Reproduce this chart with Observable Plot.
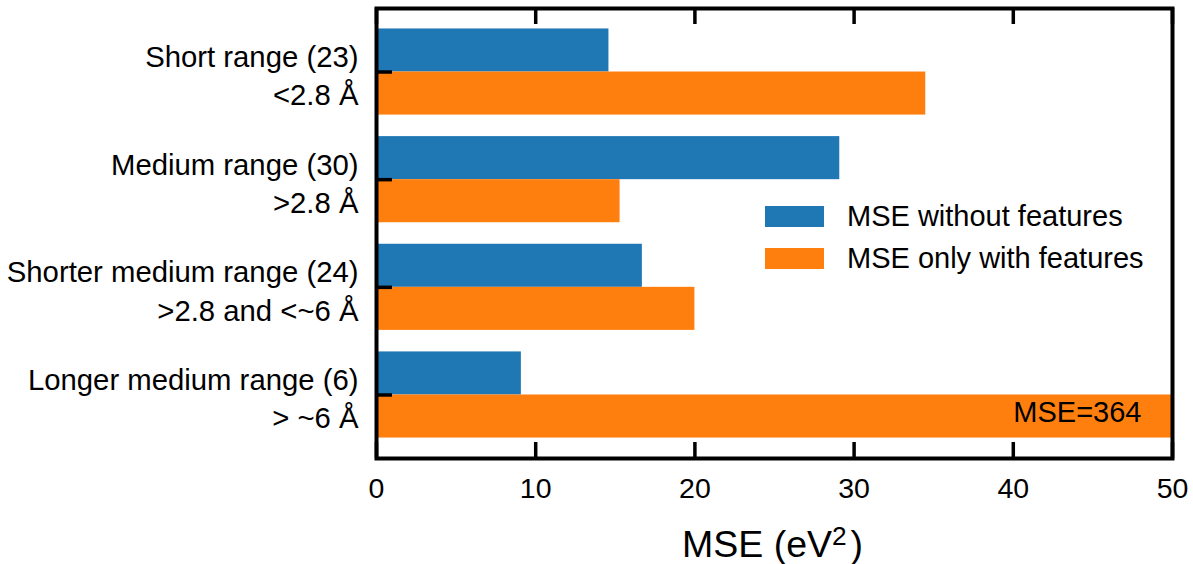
<!DOCTYPE html>
<html>
<head>
<meta charset="utf-8">
<script src="https://cdn.jsdelivr.net/npm/d3@7"></script>
<script src="https://cdn.jsdelivr.net/npm/@observablehq/plot@0.6"></script>
<style>
  html, body { margin: 0; padding: 0; background: #fff; }
  #wrap { position: relative; width: 1193px; height: 564px; font-family: "Liberation Sans", Arial, Helvetica, sans-serif; }
  #legend { position: absolute; left: 765px; top: 195px; font-size: 29px; color: #000; }
  .item { display: flex; align-items: center; height: 42px; }
  .sw { width: 59px; height: 21px; margin-right: 23px; }
</style>
</head>
<body>
<div id="wrap">
  <div id="chart"></div>
  <div id="legend"></div>
</div>
<script>
// ---- data ----
const categories = ["Short range (23)", "Medium range (30)", "Shorter medium range (24)", "Longer medium range (6)"];
const rangeLabels = ["<2.8 Å", ">2.8 Å", ">2.8 and <~6 Å", "> ~6 Å"];
const mseWithout = [14.6, 29.1, 16.7, 9.1];
const mseOnlyWith = [34.5, 15.3, 20.0, 364];
const seriesNames = ["MSE without features", "MSE only with features"];
const seriesColors = ["#1f77b4", "#ff7f0e"];
const xTicks = [0, 10, 20, 30, 40, 50];
const xDomain = [0, 50];
const annotationText = "MSE=364";
const xLabelParts = ["MSE (eV", "2", ")"];

// ---- build table ----
const barWidth = 0.4;
const rows = [];
categories.forEach((c, i) => {
  rows.push({cat: c, i, series: seriesNames[0], value: mseWithout[i], y1: i - barWidth, y2: i});
  rows.push({cat: c, i, series: seriesNames[1], value: mseOnlyWith[i], y1: i, y2: i + barWidth});
});
const catIdx = categories.map((c, i) => i);
const labelRows = categories.map((c, i) => ({i, text: c + "\n" + rangeLabels[i]}));
const xLabel = xLabelParts.join("");

const W = 1193, H = 564;
const mL = 376, mR = 21, mT = 8, mB = 106;
const plotW = W - mL - mR, plotH = H - mT - mB;
const tickLen = 16;
const n = categories.length;
const pad = 0.05 * ((n - 1 + barWidth) - (-barWidth));

const chart = Plot.plot({
  width: W,
  height: H,
  marginLeft: mL,
  marginRight: mR,
  marginTop: mT,
  marginBottom: mB,
  style: {fontFamily: '"Liberation Sans", Arial, Helvetica, sans-serif', background: "white", color: "black"},
  x: {domain: xDomain, axis: null},
  y: {domain: [-barWidth - pad, n - 1 + barWidth + pad], reverse: true, axis: null},
  color: {domain: seriesNames, range: seriesColors},
  marks: [
    Plot.rectX(rows, {x1: 0, x2: "value", y1: "y1", y2: "y2", fill: "series", clip: true}),
    Plot.text([annotationText], {x: () => xDomain[1], y: () => (n - 1) + barWidth / 2, text: d => d, textAnchor: "end", lineAnchor: "middle", dx: -31, dy: -4, fontSize: 29, fill: "black"}),
    Plot.tickX(xTicks, {x: d => d, insetTop: plotH - tickLen, stroke: "black", strokeWidth: 3.5}),
    Plot.tickX(xTicks, {x: d => d, insetBottom: plotH - tickLen, stroke: "black", strokeWidth: 3.5}),
    Plot.tickY(catIdx, {y: d => d, insetRight: plotW - tickLen, stroke: "black", strokeWidth: 3.5}),
    Plot.frame({stroke: "black", strokeWidth: 4}),
    Plot.axisX(xTicks, {anchor: "bottom", tickSize: 0, tickPadding: 19, fontSize: 28.5, label: null}),
    Plot.text(labelRows, {y: "i", text: "text", frameAnchor: "left", textAnchor: "end", lineAnchor: "middle", dx: -18, dy: 2, lineHeight: 1.3, fontSize: 29.3, fill: "black"}),
    Plot.text([xLabel], {frameAnchor: "bottom", text: d => d, lineAnchor: "middle", dy: 86, dx: -2, fontSize: 37.5, fill: "black"})
  ]
});
document.getElementById("chart").appendChild(chart);

// superscript in the axis label
d3.select(chart).selectAll("text").filter(function() { return this.textContent === xLabel; }).each(function() {
  const t = d3.select(this);
  t.text(null);
  t.append("tspan").text(xLabelParts[0]);
  t.append("tspan").attr("dy", "-0.42em").attr("font-size", "0.7em").text(xLabelParts[1]);
  t.append("tspan").attr("dy", "0.3em").attr("dx", "0.1em").text(xLabelParts[2]);
});

// legend
const legend = document.getElementById("legend");
seriesNames.forEach((s, k) => {
  const item = document.createElement("div");
  item.className = "item";
  const sw = document.createElement("div");
  sw.className = "sw";
  sw.style.background = seriesColors[k];
  const t = document.createElement("span");
  t.textContent = s;
  item.appendChild(sw);
  item.appendChild(t);
  legend.appendChild(item);
});
</script>
</body>
</html>
